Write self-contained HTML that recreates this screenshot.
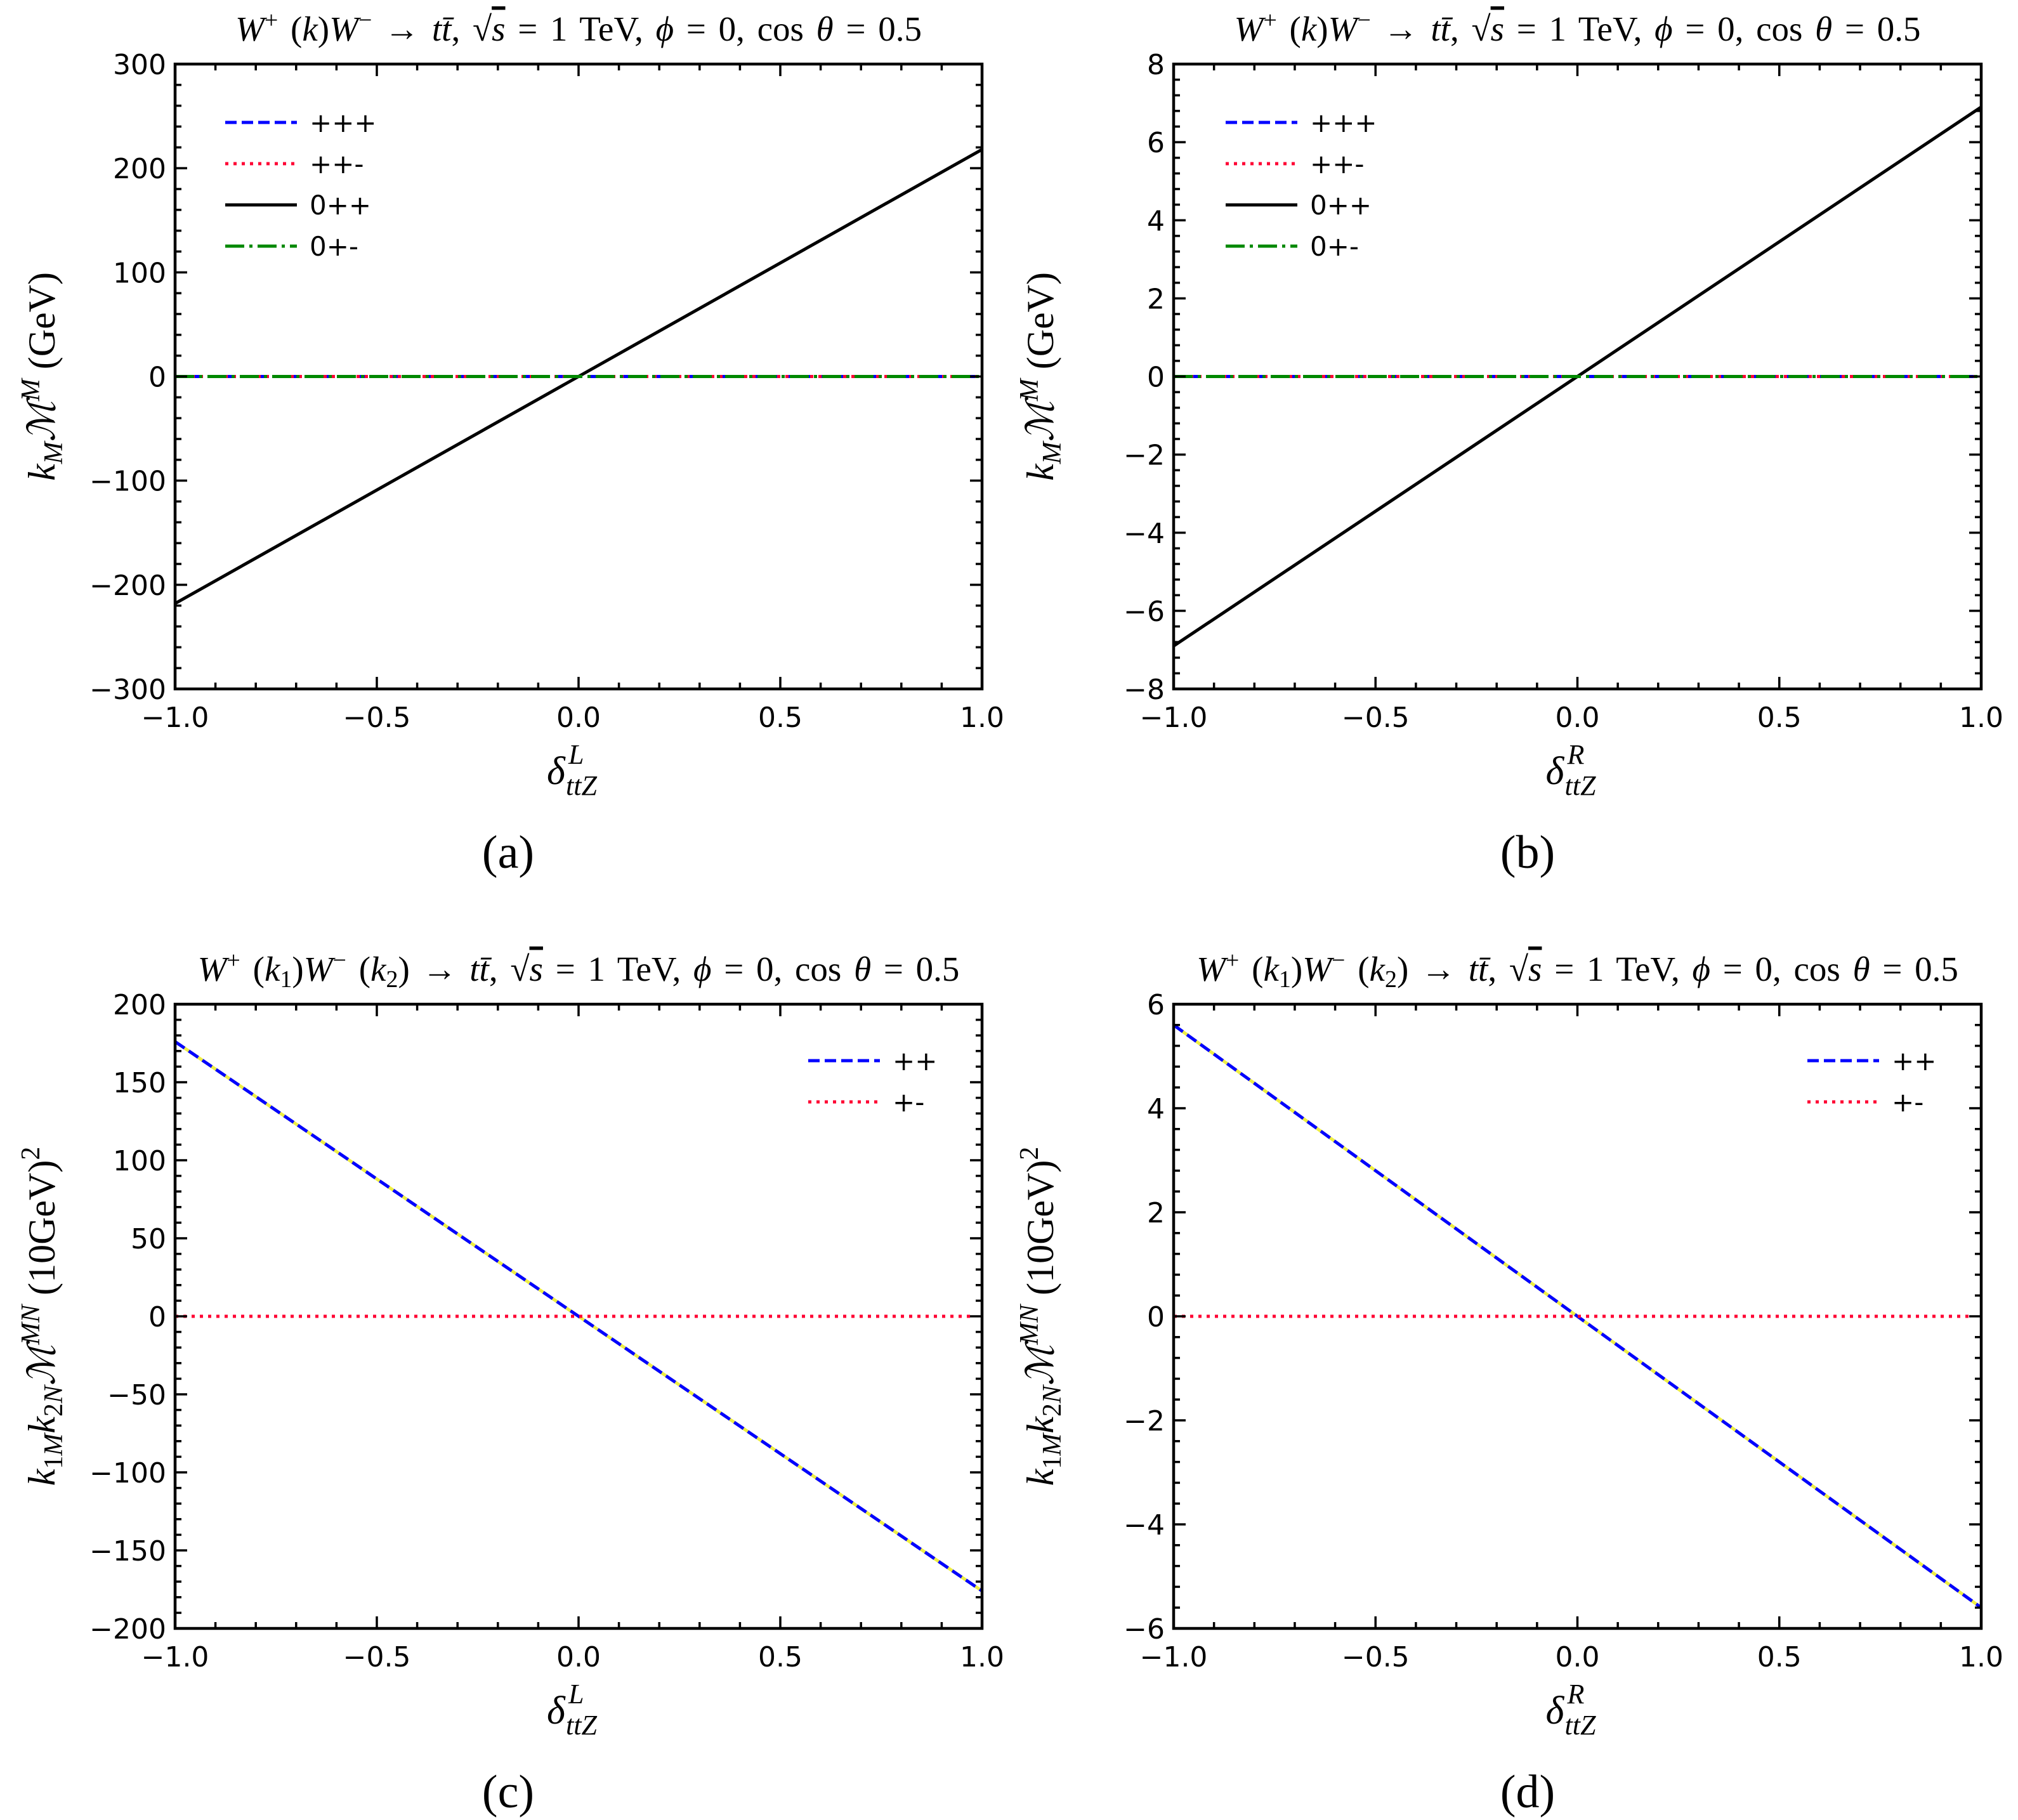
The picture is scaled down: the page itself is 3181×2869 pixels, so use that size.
<!DOCTYPE html>
<html><head><meta charset="utf-8"><style>body{margin:0;background:#fff}svg{display:block}</style></head>
<body>
<svg id="s" xmlns="http://www.w3.org/2000/svg" width="3181" height="2869" viewBox="0 0 3181 2869"></svg>
<script>
const S=document.getElementById('s');let h='';
const serif='font-family="Liberation Serif, serif"', sans='font-family="DejaVu Sans, Liberation Sans, sans-serif"';
function panel(L,R,T,B,ymax,ymaj,ymin,title,ylab,xlabSup,tag,lines,legend,legX,legY,tagX){
 const X=v=>L+(v+1)/2*(R-L), Y=v=>T+(ymax-v)/(2*ymax)*(B-T);
 h+=`<clipPath id="c${tag}"><rect x="${L}" y="${T}" width="${R-L}" height="${B-T}"/></clipPath>`;
 h+=`<g clip-path="url(#c${tag})">`;
 for(const l of lines){h+=`<line x1="${X(l[0])}" y1="${Y(l[1])}" x2="${X(l[2])}" y2="${Y(l[3])}" stroke="${l[4]}" stroke-width="${l[6]||5}" ${l[5]?'stroke-dasharray="'+l[5]+'"':''}/>`;}
 h+=`</g>`;
 h+=`<rect x="${L}" y="${T}" width="${R-L}" height="${B-T}" fill="none" stroke="#000" stroke-width="4.5"/>`;
 for(let i=0;i<=20;i++){const v=-1+i*0.1,x=X(v),len=(i%5==0)?19:10;
  h+=`<line x1="${x}" y1="${B}" x2="${x}" y2="${B-len}" stroke="#000" stroke-width="3.5"/><line x1="${x}" y1="${T}" x2="${x}" y2="${T+len}" stroke="#000" stroke-width="3.5"/>`;
  if(i%5==0)h+=`<text x="${x}" y="${B+60}" ${sans} font-size="44" text-anchor="middle">${v<-0.01?'−':''}${Math.abs(v).toFixed(1)}</text>`;}
 const n=Math.round(2*ymax/ymin);
 for(let i=0;i<=n;i++){const v=-ymax+i*ymin,y=Y(v),maj=Math.abs(v/ymaj-Math.round(v/ymaj))<1e-6,len=maj?19:10;
  h+=`<line x1="${L}" y1="${y}" x2="${L+len}" y2="${y}" stroke="#000" stroke-width="3.5"/><line x1="${R}" y1="${y}" x2="${R-len}" y2="${y}" stroke="#000" stroke-width="3.5"/>`;
  if(maj){const r=Math.round(v);h+=`<text x="${L-14}" y="${y+16}" ${sans} font-size="44" text-anchor="end">${r<0?'−':''}${Math.abs(r)}</text>`;}}
 h+=`<text x="${(L+R)/2}" y="${T-37}" ${serif} font-size="55" word-spacing="6" text-anchor="middle">${title}</text>`;
 h+=`<text transform="translate(${L-190},${(T+B)/2}) rotate(-90)" ${serif} font-size="60" text-anchor="middle">${ylab}</text>`;
 const cx=(L+R)/2;
 h+=`<text x="${cx-50}" y="${B+150}" ${serif} font-size="62" font-style="italic">δ</text>`;
 h+=`<text x="${cx-20}" y="${B+167}" ${serif} font-size="44" font-style="italic">ttZ</text>`;
 h+=`<text x="${cx-16}" y="${B+118}" ${serif} font-size="44" font-style="italic">${xlabSup}</text>`;
 h+=`<text x="${tagX}" y="${B+282}" ${serif} font-size="74" text-anchor="middle">(${tag})</text>`;
 legend.forEach((e,i)=>{const y=legY+i*65;h+=`<line x1="${legX}" y1="${y}" x2="${legX+113}" y2="${y}" stroke="${e[1]}" stroke-width="5" ${e[2]?'stroke-dasharray="'+e[2]+'"':''}/><text x="${legX+133}" y="${y+15}" ${sans} font-size="42">${e[0]}</text>`;});
}
const D='18,8',Dt='5,8',DD='30,8,5,8';
const t1='<tspan font-style="italic">W</tspan><tspan font-size="38" dy="-20">+</tspan><tspan dy="20"> (</tspan><tspan font-style="italic">k</tspan>)<tspan font-style="italic">W</tspan><tspan font-size="38" dy="-20">−</tspan><tspan dy="20"> → </tspan><tspan font-style="italic">tt̄</tspan>,  √<tspan font-style="italic" text-decoration="overline">s</tspan> = 1 TeV,  <tspan font-style="italic">ϕ</tspan> = 0, cos <tspan font-style="italic">θ</tspan> = 0.5';
const t2='<tspan font-style="italic">W</tspan><tspan font-size="38" dy="-20">+</tspan><tspan dy="20"> (</tspan><tspan font-style="italic">k</tspan><tspan font-size="38" dy="10">1</tspan><tspan dy="-10">)</tspan><tspan font-style="italic">W</tspan><tspan font-size="38" dy="-20">−</tspan><tspan dy="20"> (</tspan><tspan font-style="italic">k</tspan><tspan font-size="38" dy="10">2</tspan><tspan dy="-10">) → </tspan><tspan font-style="italic">tt̄</tspan>,  √<tspan font-style="italic" text-decoration="overline">s</tspan> = 1 TeV,  <tspan font-style="italic">ϕ</tspan> = 0, cos <tspan font-style="italic">θ</tspan> = 0.5';
const y1='<tspan font-style="italic">k</tspan><tspan font-style="italic" font-size="42" dy="12">M</tspan><tspan font-style="italic" dy="-12" font-family="DejaVu Serif, serif">ℳ</tspan><tspan font-style="italic" font-size="42" dy="-24">M</tspan><tspan dy="24"> (GeV)</tspan>';
const y2='<tspan font-style="italic">k</tspan><tspan font-size="42" dy="12">1</tspan><tspan font-size="42" font-style="italic">M</tspan><tspan font-style="italic" dy="-12">k</tspan><tspan font-size="42" dy="12">2</tspan><tspan font-size="42" font-style="italic">N</tspan><tspan font-style="italic" dy="-12" font-family="DejaVu Serif, serif">ℳ</tspan><tspan font-style="italic" font-size="42" dy="-24">MN</tspan><tspan dy="24"> (10GeV)</tspan><tspan font-size="42" dy="-24">2</tspan>';
const legA=[['+++','#00f',D],['++-','#f03',Dt],['0++','#000',''],['0+-','#080',DD]];
const linesA=m=>[[-1,-m,1,m,'#000',''],[-1,0,1,0,'#00f',D],[-1,0,1,0,'#f03',Dt],[-1,0,1,0,'#080',DD]];
panel(276,1548,101,1086,300,100,20,t1,y1,'L','a',linesA(218),legA,355,193,801);
panel(1850,3123,101,1086,8,2,0.4,t1,y1,'R','b',linesA(6.9),legA,1932,193,2408);
const legC=[['++','#00f',D],['+-','#f03',Dt]];
panel(276,1548,1583,2567,200,50,10,t2,y2,'L','c',[[-1,176,1,-176,'#ee4',''],[-1,176,1,-176,'#00f',D],[-1,0,0.98,0,'#f03',Dt]],legC,1274,1672,801);
panel(1850,3123,1583,2567,6,2,0.4,t2,y2,'R','d',[[-1,5.6,1,-5.6,'#ee4',''],[-1,5.6,1,-5.6,'#00f',D],[-1,0,0.98,0,'#f03',Dt]],legC,2849,1672,2408);
S.innerHTML=h;
</script>
</body></html>
